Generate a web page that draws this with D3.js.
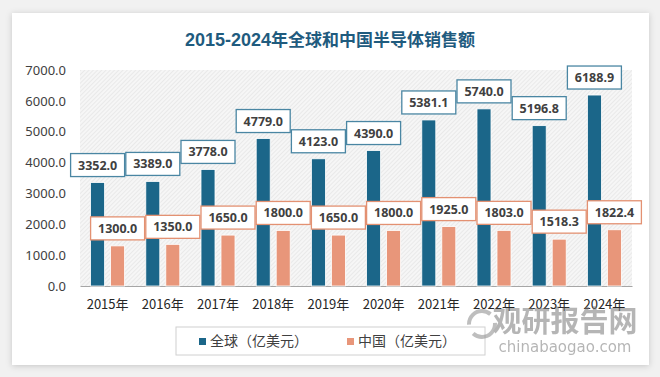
<!DOCTYPE html>
<html>
<head>
<meta charset="utf-8">
<script src="https://cdn.jsdelivr.net/npm/d3@7"></script>
<style>
  html, body { margin: 0; padding: 0; background: #f1f1f1; }
  svg { display: block; }
</style>
</head>
<body>
<div id="chart"></div>
<script>
// 資料
var years = ["2015年", "2016年", "2017年", "2018年", "2019年", "2020年", "2021年", "2022年", "2023年", "2024年"];
var globalSales = [3352.0, 3389.0, 3778.0, 4779.0, 4123.0, 4390.0, 5381.1, 5740.0, 5196.8, 6188.9];
var chinaSales = [1300.0, 1350.0, 1650.0, 1800.0, 1650.0, 1800.0, 1925.0, 1803.0, 1518.3, 1822.4];
var yTicks = [0, 1000, 2000, 3000, 4000, 5000, 6000, 7000];
var seriesNames = ["全球（亿美元）", "中国（亿美元）"];

var W = 660, H = 377;
var margin = { top: 70, right: 28, bottom: 91, left: 80 },
    width = W - margin.left - margin.right,
    height = H - margin.top - margin.bottom;

var blue = "#1b6689", orange = "#e8967a";
var cjk = "'Noto Sans CJK SC', 'Noto Sans', sans-serif";

var root = d3.select("#chart").append("svg")
    .attr("width", W)
    .attr("height", H);

var defs = root.append("defs");
// 卡片陰影
var f = defs.append("filter").attr("id", "shadow")
    .attr("x", "-5%").attr("y", "-5%").attr("width", "110%").attr("height", "110%");
f.append("feDropShadow").attr("dx", 0).attr("dy", 1).attr("stdDeviation", 3)
    .attr("flood-color", "#000").attr("flood-opacity", 0.18);

// 斜線底紋
var pat = defs.append("pattern").attr("id", "hatch")
    .attr("patternUnits", "userSpaceOnUse")
    .attr("width", 3).attr("height", 3)
    .attr("patternTransform", "rotate(45)");
pat.append("rect").attr("width", 3).attr("height", 3).attr("fill", "#f6f6f6");
pat.append("line").attr("x1", 0).attr("y1", 0).attr("x2", 0).attr("y2", 3)
    .attr("stroke", "#dcdcdc").attr("stroke-width", 1);

// 卡片
root.append("rect")
    .attr("x", 12).attr("y", 13)
    .attr("width", 637).attr("height", 352)
    .attr("fill", "#fff")
    .attr("filter", "url(#shadow)");

// 標題
var title = root.append("text")
    .attr("x", 330).attr("y", 46)
    .attr("text-anchor", "middle")
    .style("fill", "#1f5b7e")
    .style("font-weight", "bold")
    .style("font-size", "18px");
title.append("tspan").style("font-family", "'Liberation Sans', Arial, sans-serif").text("2015-2024");
title.append("tspan").style("font-family", cjk).style("font-size", "17px").text("年全球和中国半导体销售额");

var svg = root.append("g")
    .attr("transform", "translate(" + margin.left + "," + margin.top + ")");

var x = d3.scaleBand().domain(years).range([0, width]);
var y = d3.scaleLinear().domain([0, 7000]).range([height, 0]);

// 繪圖區背景
svg.append("rect")
    .attr("width", width).attr("height", height)
    .attr("fill", "url(#hatch)");

// Y 軸
var yAxis = svg.append("g")
    .call(d3.axisLeft(y).tickValues(yTicks).tickFormat(d3.format(".1f")).tickSize(0).tickPadding(14));
yAxis.select(".domain").remove();
yAxis.selectAll("text")
    .style("font-family", "'Noto Sans', sans-serif")
    .style("font-size", "13px")
    .style("fill", "#404040");

// X 軸
var xAxis = svg.append("g")
    .attr("transform", "translate(0," + height + ")")
    .call(d3.axisBottom(x).tickSize(0).tickPadding(14));
xAxis.select(".domain").attr("stroke", "#a6a6a6").attr("stroke-width", 1.2);
xAxis.selectAll("text")
    .style("font-family", cjk)
    .style("font-size", "13px")
    .style("fill", "#262626");

var barW = 14, gap = 6;
var series = [
    { name: seriesNames[0], values: globalSales, color: blue, border: "#4a86a3", off: -(barW + gap) / 2 },
    { name: seriesNames[1], values: chinaSales, color: orange, border: "#e39172", off: (barW + gap) / 2 }
];

series.forEach(function (s) {
    var cx = function (d, i) { return x(years[i]) + x.bandwidth() / 2 + s.off; };
    svg.selectAll(null).data(s.values).enter()
        .append("rect")
        .attr("x", (d, i) => cx(d, i) - barW / 2)
        .attr("y", d => y(d))
        .attr("width", barW)
        .attr("height", d => height - y(d))
        .attr("fill", s.color)
        .attr("stroke", "#fff")
        .attr("stroke-width", 0.8);
});

// 數值標籤
series.forEach(function (s) {
    var cx = function (d, i) { return x(years[i]) + x.bandwidth() / 2 + s.off; };
    var lab = svg.selectAll(null).data(s.values).enter().append("g")
        .attr("transform", (d, i) => "translate(" + cx(d, i) + "," + (y(d) - 6) + ")");
    lab.append("rect")
        .attr("x", -27).attr("y", -23)
        .attr("width", 54).attr("height", 23)
        .attr("fill", "#fff")
        .attr("stroke", s.border)
        .attr("stroke-width", 1.3);
    lab.append("text")
        .attr("y", -7)
        .attr("text-anchor", "middle")
        .style("font-family", "'Noto Sans', sans-serif")
        .style("font-weight", "bold")
        .style("font-size", "12.5px")
        .style("fill", "#404040")
        .text(d => d.toFixed(1));
});

// 圖例
var legend = root.append("g");
legend.append("rect")
    .attr("x", 176).attr("y", 327)
    .attr("width", 309).attr("height", 28)
    .attr("fill", "#fff")
    .attr("stroke", "#d0d0d0");
var lx = [199, 347];
series.forEach(function (s, i) {
    legend.append("rect")
        .attr("x", lx[i]).attr("y", 338)
        .attr("width", 7).attr("height", 7)
        .attr("fill", s.color);
    legend.append("text")
        .attr("x", lx[i] + 11).attr("y", 346)
        .style("font-family", cjk)
        .style("font-size", "14px")
        .style("fill", "#404040")
        .text(s.name);
});

// 浮水印
var wm = root.append("g").style("opacity", 0.55);
wm.append("circle").attr("cx", 482).attr("cy", 324).attr("r", 13)
    .attr("fill", "none").attr("stroke", "#8a8a8a").attr("stroke-width", 4)
    .attr("stroke-dasharray", "30 10");
wm.append("text")
    .attr("x", 565).attr("y", 332)
    .attr("text-anchor", "middle")
    .style("font-family", cjk)
    .style("font-weight", "bold")
    .style("font-size", "29px")
    .style("fill", "#7a7a7a")
    .text("观研报告网");
wm.append("text")
    .attr("x", 565).attr("y", 352)
    .attr("text-anchor", "middle")
    .style("font-family", "'DejaVu Sans', sans-serif")
    .style("font-size", "15px")
    .style("fill", "#7a7a7a")
    .text("chinabaogao.com");
</script>
</body>
</html>
